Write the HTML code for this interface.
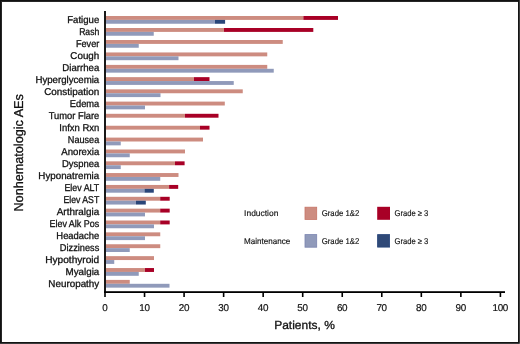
<!DOCTYPE html><html><head><meta charset="utf-8"><style>
html,body{margin:0;padding:0;background:#fff;}
body{width:520px;height:344px;overflow:hidden;position:relative;}
svg{position:absolute;left:0;top:0;display:block;will-change:transform;}
text{font-family:"Liberation Sans",sans-serif;fill:#111;stroke:#111;stroke-width:0.3px;text-rendering:geometricPrecision;}
</style></head><body>
<svg width="520" height="344" viewBox="0 0 520 344">
<rect x="0" y="0" width="520" height="344" fill="#fff"/>
<rect x="106.0" y="16.00" width="197.35" height="3.9" fill="#cd8c80"/>
<rect x="303.35" y="16.00" width="34.65" height="3.9" fill="#a80026"/>
<rect x="106.0" y="19.90" width="109.00" height="3.85" fill="#909aba"/>
<rect x="215.00" y="19.90" width="10.10" height="3.85" fill="#2a4679"/>
<text x="99.25" y="22.80" font-size="9.9" text-anchor="end" textLength="32.00" lengthAdjust="spacingAndGlyphs">Fatigue</text>
<rect x="106.0" y="28.00" width="118.00" height="3.9" fill="#cd8c80"/>
<rect x="224.00" y="28.00" width="89.30" height="3.9" fill="#a80026"/>
<rect x="106.0" y="31.90" width="47.75" height="3.85" fill="#909aba"/>
<text x="99.25" y="34.80" font-size="9.9" text-anchor="end" textLength="20.10" lengthAdjust="spacingAndGlyphs">Rash</text>
<rect x="106.0" y="40.00" width="176.75" height="3.9" fill="#cd8c80"/>
<rect x="106.0" y="43.90" width="32.75" height="3.85" fill="#909aba"/>
<text x="99.25" y="46.80" font-size="9.9" text-anchor="end" textLength="23.30" lengthAdjust="spacingAndGlyphs">Fever</text>
<rect x="106.0" y="52.45" width="161.25" height="3.9" fill="#cd8c80"/>
<rect x="106.0" y="56.35" width="72.50" height="3.85" fill="#909aba"/>
<text x="99.25" y="58.80" font-size="9.9" text-anchor="end" textLength="28.90" lengthAdjust="spacingAndGlyphs">Cough</text>
<rect x="106.0" y="64.90" width="161.25" height="3.9" fill="#cd8c80"/>
<rect x="106.0" y="68.80" width="167.75" height="3.85" fill="#909aba"/>
<text x="99.25" y="70.80" font-size="9.9" text-anchor="end" textLength="36.90" lengthAdjust="spacingAndGlyphs">Diarrhea</text>
<rect x="106.0" y="77.15" width="88.00" height="3.9" fill="#cd8c80"/>
<rect x="194.00" y="77.15" width="15.50" height="3.9" fill="#a80026"/>
<rect x="106.0" y="81.05" width="127.75" height="3.85" fill="#909aba"/>
<text x="99.25" y="82.80" font-size="9.9" text-anchor="end" textLength="63.80" lengthAdjust="spacingAndGlyphs">Hyperglycemia</text>
<rect x="106.0" y="89.35" width="136.75" height="3.9" fill="#cd8c80"/>
<rect x="106.0" y="93.25" width="54.50" height="3.85" fill="#909aba"/>
<text x="99.25" y="94.80" font-size="9.9" text-anchor="end" textLength="55.10" lengthAdjust="spacingAndGlyphs">Constipation</text>
<rect x="106.0" y="101.60" width="118.80" height="3.9" fill="#cd8c80"/>
<rect x="106.0" y="105.50" width="39.00" height="3.85" fill="#909aba"/>
<text x="99.25" y="106.80" font-size="9.9" text-anchor="end" textLength="29.50" lengthAdjust="spacingAndGlyphs">Edema</text>
<rect x="106.0" y="113.80" width="79.00" height="3.9" fill="#cd8c80"/>
<rect x="185.00" y="113.80" width="33.50" height="3.9" fill="#a80026"/>
<text x="99.25" y="118.80" font-size="9.9" text-anchor="end" textLength="50.50" lengthAdjust="spacingAndGlyphs">Tumor Flare</text>
<rect x="106.0" y="125.75" width="94.00" height="3.9" fill="#cd8c80"/>
<rect x="200.00" y="125.75" width="9.50" height="3.9" fill="#a80026"/>
<text x="99.25" y="130.80" font-size="9.9" text-anchor="end" textLength="40.00" lengthAdjust="spacingAndGlyphs">Infxn Rxn</text>
<rect x="106.0" y="137.60" width="97.00" height="3.9" fill="#cd8c80"/>
<rect x="106.0" y="141.50" width="14.75" height="3.85" fill="#909aba"/>
<text x="99.25" y="142.80" font-size="9.9" text-anchor="end" textLength="31.40" lengthAdjust="spacingAndGlyphs">Nausea</text>
<rect x="106.0" y="149.50" width="79.00" height="3.9" fill="#cd8c80"/>
<rect x="106.0" y="153.40" width="23.75" height="3.85" fill="#909aba"/>
<text x="99.25" y="154.80" font-size="9.9" text-anchor="end" textLength="37.90" lengthAdjust="spacingAndGlyphs">Anorexia</text>
<rect x="106.0" y="161.35" width="69.00" height="3.9" fill="#cd8c80"/>
<rect x="175.00" y="161.35" width="9.60" height="3.9" fill="#a80026"/>
<rect x="106.0" y="165.25" width="14.75" height="3.85" fill="#909aba"/>
<text x="99.25" y="166.80" font-size="9.9" text-anchor="end" textLength="37.30" lengthAdjust="spacingAndGlyphs">Dyspnea</text>
<rect x="106.0" y="173.05" width="72.50" height="3.9" fill="#cd8c80"/>
<rect x="106.0" y="176.95" width="54.25" height="3.85" fill="#909aba"/>
<text x="99.25" y="178.80" font-size="9.9" text-anchor="end" textLength="60.90" lengthAdjust="spacingAndGlyphs">Hyponatremia</text>
<rect x="106.0" y="184.95" width="63.10" height="3.9" fill="#cd8c80"/>
<rect x="169.10" y="184.95" width="9.10" height="3.9" fill="#a80026"/>
<rect x="106.0" y="188.85" width="38.50" height="3.85" fill="#909aba"/>
<rect x="144.50" y="188.85" width="9.30" height="3.85" fill="#2a4679"/>
<text x="99.25" y="190.80" font-size="9.9" text-anchor="end" textLength="34.80" lengthAdjust="spacingAndGlyphs">Elev ALT</text>
<rect x="106.0" y="196.80" width="54.20" height="3.9" fill="#cd8c80"/>
<rect x="160.20" y="196.80" width="9.50" height="3.9" fill="#a80026"/>
<rect x="106.0" y="200.70" width="30.00" height="3.85" fill="#909aba"/>
<rect x="136.00" y="200.70" width="9.80" height="3.85" fill="#2a4679"/>
<text x="99.25" y="202.80" font-size="9.9" text-anchor="end" textLength="35.80" lengthAdjust="spacingAndGlyphs">Elev AST</text>
<rect x="106.0" y="208.65" width="54.20" height="3.9" fill="#cd8c80"/>
<rect x="160.20" y="208.65" width="9.50" height="3.9" fill="#a80026"/>
<rect x="106.0" y="212.55" width="39.00" height="3.85" fill="#909aba"/>
<text x="99.25" y="214.80" font-size="9.9" text-anchor="end" textLength="42.50" lengthAdjust="spacingAndGlyphs">Arthralgia</text>
<rect x="106.0" y="220.50" width="54.20" height="3.9" fill="#cd8c80"/>
<rect x="160.20" y="220.50" width="9.50" height="3.9" fill="#a80026"/>
<rect x="106.0" y="224.40" width="48.00" height="3.85" fill="#909aba"/>
<text x="99.25" y="226.80" font-size="9.9" text-anchor="end" textLength="49.80" lengthAdjust="spacingAndGlyphs">Elev Alk Pos</text>
<rect x="106.0" y="232.35" width="54.25" height="3.9" fill="#cd8c80"/>
<rect x="106.0" y="236.25" width="39.00" height="3.85" fill="#909aba"/>
<text x="99.25" y="238.80" font-size="9.9" text-anchor="end" textLength="42.90" lengthAdjust="spacingAndGlyphs">Headache</text>
<rect x="106.0" y="244.25" width="54.25" height="3.9" fill="#cd8c80"/>
<rect x="106.0" y="248.15" width="23.75" height="3.85" fill="#909aba"/>
<text x="99.25" y="250.80" font-size="9.9" text-anchor="end" textLength="39.40" lengthAdjust="spacingAndGlyphs">Dizziness</text>
<rect x="106.0" y="256.15" width="48.00" height="3.9" fill="#cd8c80"/>
<rect x="106.0" y="260.05" width="8.25" height="3.85" fill="#909aba"/>
<text x="99.25" y="262.80" font-size="9.9" text-anchor="end" textLength="54.00" lengthAdjust="spacingAndGlyphs">Hypothyroid</text>
<rect x="106.0" y="268.05" width="39.00" height="3.9" fill="#cd8c80"/>
<rect x="145.00" y="268.05" width="9.00" height="3.9" fill="#a80026"/>
<rect x="106.0" y="271.95" width="32.75" height="3.85" fill="#909aba"/>
<text x="99.25" y="274.80" font-size="9.9" text-anchor="end" textLength="33.70" lengthAdjust="spacingAndGlyphs">Myalgia</text>
<rect x="106.0" y="279.90" width="23.75" height="3.9" fill="#cd8c80"/>
<rect x="106.0" y="283.80" width="63.50" height="3.85" fill="#909aba"/>
<text x="99.25" y="286.80" font-size="9.9" text-anchor="end" textLength="50.90" lengthAdjust="spacingAndGlyphs">Neuropathy</text>
<rect x="104.1" y="11" width="1.8" height="282" fill="#000"/>
<rect x="104.1" y="291.2" width="400.9" height="1.8" fill="#000"/>
<rect x="104.20" y="292" width="1.6" height="5" fill="#000"/>
<text x="104.85" y="310.5" font-size="9.9" letter-spacing="-0.3" style="stroke-width:0.18px" text-anchor="middle">0</text>
<rect x="143.74" y="292" width="1.6" height="5" fill="#000"/>
<text x="144.39" y="310.5" font-size="9.9" letter-spacing="-0.3" style="stroke-width:0.18px" text-anchor="middle">10</text>
<rect x="183.28" y="292" width="1.6" height="5" fill="#000"/>
<text x="183.93" y="310.5" font-size="9.9" letter-spacing="-0.3" style="stroke-width:0.18px" text-anchor="middle">20</text>
<rect x="222.82" y="292" width="1.6" height="5" fill="#000"/>
<text x="223.47" y="310.5" font-size="9.9" letter-spacing="-0.3" style="stroke-width:0.18px" text-anchor="middle">30</text>
<rect x="262.36" y="292" width="1.6" height="5" fill="#000"/>
<text x="263.01" y="310.5" font-size="9.9" letter-spacing="-0.3" style="stroke-width:0.18px" text-anchor="middle">40</text>
<rect x="301.90" y="292" width="1.6" height="5" fill="#000"/>
<text x="302.55" y="310.5" font-size="9.9" letter-spacing="-0.3" style="stroke-width:0.18px" text-anchor="middle">50</text>
<rect x="341.44" y="292" width="1.6" height="5" fill="#000"/>
<text x="342.09" y="310.5" font-size="9.9" letter-spacing="-0.3" style="stroke-width:0.18px" text-anchor="middle">60</text>
<rect x="380.98" y="292" width="1.6" height="5" fill="#000"/>
<text x="381.63" y="310.5" font-size="9.9" letter-spacing="-0.3" style="stroke-width:0.18px" text-anchor="middle">70</text>
<rect x="420.52" y="292" width="1.6" height="5" fill="#000"/>
<text x="421.17" y="310.5" font-size="9.9" letter-spacing="-0.3" style="stroke-width:0.18px" text-anchor="middle">80</text>
<rect x="460.06" y="292" width="1.6" height="5" fill="#000"/>
<text x="460.71" y="310.5" font-size="9.9" letter-spacing="-0.3" style="stroke-width:0.18px" text-anchor="middle">90</text>
<rect x="499.60" y="292" width="1.6" height="5" fill="#000"/>
<text x="500.25" y="310.5" font-size="9.9" letter-spacing="-0.3" style="stroke-width:0.18px" text-anchor="middle">100</text>
<text x="274.2" y="328.8" font-size="11.7" textLength="60.6" lengthAdjust="spacingAndGlyphs">Patients, %</text>
<text transform="translate(22.5,152.85) rotate(-90)" font-size="12.9" text-anchor="middle" textLength="117.4" lengthAdjust="spacingAndGlyphs">Nonhematologic AEs</text>
<text x="244.10" y="216.0" font-size="8.4" textLength="34.30" lengthAdjust="spacingAndGlyphs" style="stroke-width:0.15px">Induction</text>
<text x="244.10" y="243.6" font-size="8.4" textLength="46.20" lengthAdjust="spacingAndGlyphs" style="stroke-width:0.15px">Maintenance</text>
<text x="321.70" y="216.0" font-size="8.4" textLength="37.60" lengthAdjust="spacingAndGlyphs" style="stroke-width:0.15px">Grade 1&amp;2</text>
<text x="321.70" y="243.6" font-size="8.4" textLength="37.60" lengthAdjust="spacingAndGlyphs" style="stroke-width:0.15px">Grade 1&amp;2</text>
<text x="394.50" y="216.0" font-size="8.4" textLength="33.80" lengthAdjust="spacingAndGlyphs" style="stroke-width:0.15px">Grade ≥ 3</text>
<text x="394.50" y="243.6" font-size="8.4" textLength="33.80" lengthAdjust="spacingAndGlyphs" style="stroke-width:0.15px">Grade ≥ 3</text>
<rect x="305" y="207.2" width="11.7" height="12.2" fill="#cd8c80" stroke="#c67466" stroke-width="0.8"/>
<rect x="305" y="234.6" width="11.7" height="12.6" fill="#909aba" stroke="#7b84b0" stroke-width="0.8"/>
<rect x="377.2" y="206.8" width="12.8" height="13" fill="#a80026"/>
<rect x="377.6" y="234.6" width="12" height="12.5" fill="#2f4977" stroke="#26447a" stroke-width="0.8"/>
<path d="M0 0H520V344H0Z M2 2V342H518V2Z" fill="#141414" fill-rule="evenodd"/>
<rect x="1" y="1" width="1" height="341" fill="#262626"/>
<rect x="1" y="1" width="517" height="1" fill="#262626"/>
<rect x="0" y="0" width="1" height="344" fill="#111"/>
<rect x="0" y="0" width="520" height="1" fill="#111"/>
<rect x="519" y="0" width="1" height="344" fill="#3c3c3c"/>
<rect x="0" y="343" width="520" height="1" fill="#3c3c3c"/>
<rect x="519" y="343" width="1" height="1" fill="#666"/>
</svg></body></html>
